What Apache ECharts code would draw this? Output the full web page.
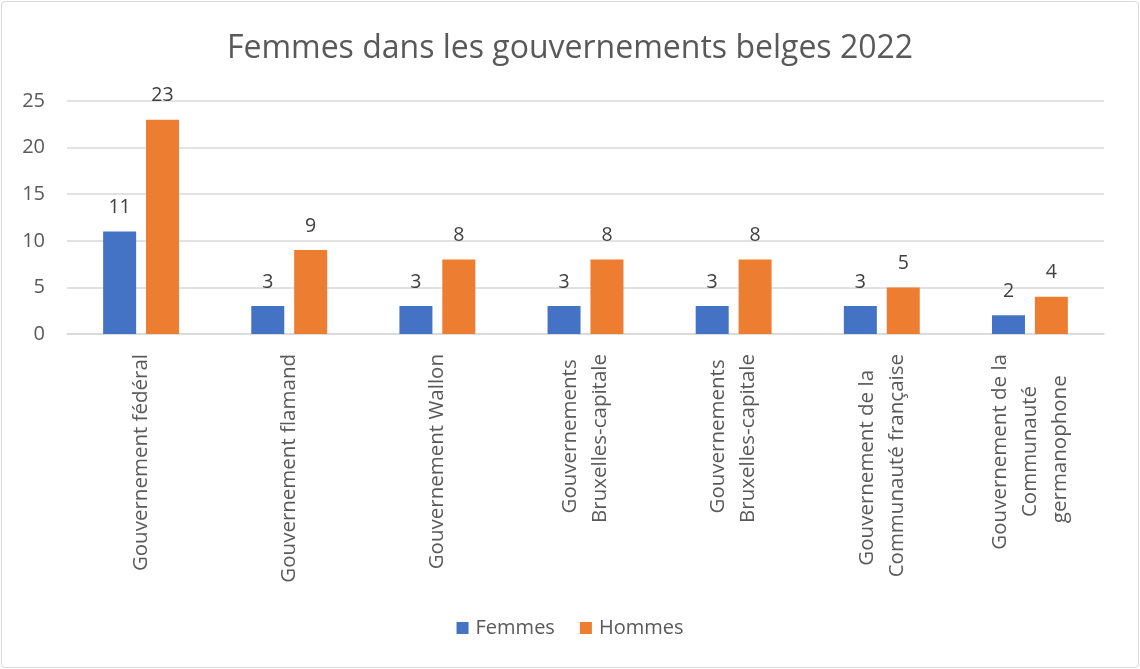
<!DOCTYPE html>
<html><head><meta charset="utf-8">
<script src="https://cdn.jsdelivr.net/npm/echarts@6/dist/echarts.min.js"></script>
<style>
html,body{margin:0;padding:0;background:#fff;}
#c{position:absolute;left:1px;top:1px;width:1136px;height:665px;border:1px solid #d9d9d9;border-radius:4px;}
</style></head>
<body><div id="c"></div>
<script>
const categories = [
  "Gouvernement fédéral",
  "Gouvernement flamand",
  "Gouvernement Wallon",
  "Gouvernements\nBruxelles-capitale",
  "Gouvernements\nBruxelles-capitale",
  "Gouvernement de la\nCommunauté française",
  "Gouvernement de la\nCommunauté\ngermanophone"
];
const femmes = [11, 3, 3, 3, 3, 3, 2];
const hommes = [23, 9, 8, 8, 8, 5, 4];
const yTicks = { min: 0, max: 25, interval: 5 };

const FONT = 'Open Sans';
const LABEL_SIZE = 20.5;
const TXT = '#595959';

// centre shorter lines of each multi-line label (labels are end-aligned at the axis)
const cv = document.createElement('canvas').getContext('2d');
cv.font = LABEL_SIZE + 'px "' + FONT + '"';
const spW = cv.measureText('\u00a0\u00a0\u00a0\u00a0\u00a0\u00a0\u00a0\u00a0\u00a0\u00a0').width / 10 || 5;
const labelText = categories.map(c => {
  const lines = c.split('\n');
  const ws = lines.map(l => cv.measureText(l).width);
  const maxW = Math.max(...ws);
  return lines.map((l, j) => l + '\u00a0'.repeat(Math.max(0, Math.round((maxW - ws[j]) / 2 / spW)))).join('\n');
});

const chart = echarts.init(document.getElementById('c'));
chart.setOption({
  animation: false,
  title: {
    text: 'Femmes dans les gouvernements belges 2022',
    left: 'center', top: 26,
    textStyle: { fontFamily: FONT, fontSize: 32, fontWeight: 'normal', color: TXT }
  },
  legend: {
    bottom: 24, left: 'center',
    itemWidth: 12, itemHeight: 12, itemGap: 25,
    icon: 'rect',
    textStyle: { fontFamily: FONT, fontSize: 20, color: TXT, padding: [0, 0, 0, 2] },
    data: ['Femmes', 'Hommes']
  },
  grid: { left: 65, right: 34, top: 99, bottom: 333, outerBoundsMode: 'none' },
  xAxis: {
    type: 'category', data: categories,
    axisLine: { lineStyle: { color: '#d9d9d9', width: 1.5 } },
    axisTick: { show: false },
    axisLabel: {
      interval: 0, rotate: 90, margin: 20,
      fontFamily: FONT, fontSize: LABEL_SIZE, color: TXT, lineHeight: 30,
      formatter: (v, i) => labelText[i]
    }
  },
  yAxis: {
    type: 'value', min: yTicks.min, max: yTicks.max, interval: yTicks.interval,
    axisLine: { show: false }, axisTick: { show: false },
    splitLine: { lineStyle: { color: '#d9d9d9', width: 1.5 } },
    axisLabel: { margin: 22, fontFamily: FONT, fontSize: 20, color: TXT }
  },
  series: [
    { name: 'Femmes', type: 'bar', data: femmes, barWidth: 33, barGap: '30%',
      itemStyle: { color: '#4472C4' },
      label: { show: true, position: 'top', distance: 14, fontFamily: FONT, fontSize: 19.5, color: '#404040' } },
    { name: 'Hommes', type: 'bar', data: hommes, barWidth: 33,
      itemStyle: { color: '#ED7D31' },
      label: { show: true, position: 'top', distance: 14, fontFamily: FONT, fontSize: 19.5, color: '#404040' } }
  ]
});
</script></body></html>
